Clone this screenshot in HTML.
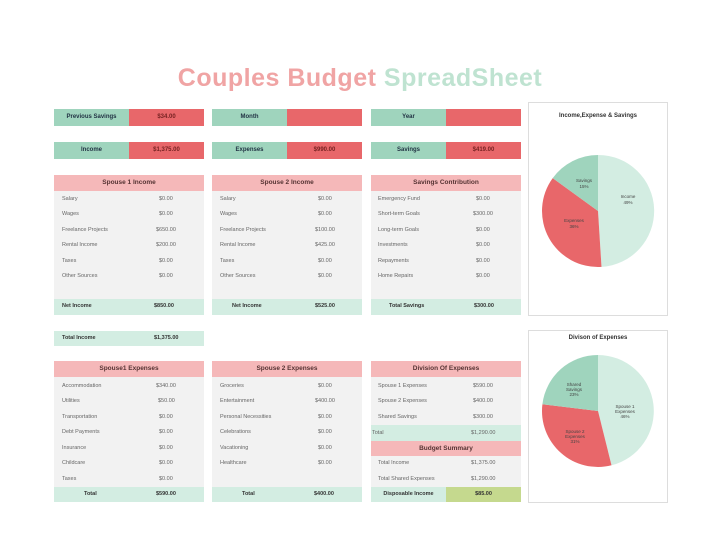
<!DOCTYPE html>
<html><head><style>
body{margin:0;width:720px;height:556px;background:#fff;position:relative;overflow:hidden;font-family:"Liberation Sans",sans-serif;color:#444}
div{position:absolute;box-sizing:border-box}
.g{background:#9fd4bd;font-weight:bold;font-size:6px;color:#234;text-align:center}
.r{background:#e8676a;font-weight:bold;font-size:6px;color:#722;text-align:center}
.h{background:#f5b8b9;font-weight:bold;font-size:6.5px;color:#533;text-align:center;line-height:16px}
.b{background:#f2f2f2}
.f{background:#d3ede2;font-weight:bold;font-size:5.5px;color:#333;line-height:15px}
.t{font-size:5.5px;color:#666;line-height:8px}
.card{border:1px solid #ddd;background:#fff}
</style></head><body>
<div style="left:0;top:64px;width:720px;text-align:center;font-size:25px;font-weight:bold;letter-spacing:0.5px"><span style="color:#f0a4a4">Couples Budget</span> <span style="color:#bfe3d1">SpreadSheet</span></div>

<!-- row 1 -->
<div class="g" style="left:54px;top:109px;width:75px;height:17px;line-height:17px">Previous Savings</div><div class="r" style="left:129px;top:109px;width:75px;height:17px;line-height:17px">$34.00</div>
<div class="g" style="left:212px;top:109px;width:75px;height:17px;line-height:17px">Month</div><div class="r" style="left:287px;top:109px;width:75px;height:17px"></div>
<div class="g" style="left:371px;top:109px;width:75px;height:17px;line-height:17px">Year</div><div class="r" style="left:446px;top:109px;width:75px;height:17px"></div>
<div class="g" style="left:54px;top:142px;width:75px;height:17px;line-height:17px">Income</div><div class="r" style="left:129px;top:142px;width:75px;height:17px;line-height:17px">$1,375.00</div>
<div class="g" style="left:212px;top:142px;width:75px;height:17px;line-height:17px">Expenses</div><div class="r" style="left:287px;top:142px;width:75px;height:17px;line-height:17px">$990.00</div>
<div class="g" style="left:371px;top:142px;width:75px;height:17px;line-height:17px">Savings</div><div class="r" style="left:446px;top:142px;width:75px;height:17px;line-height:17px">$419.00</div>

<!-- income tables -->
<div class="h" style="left:54px;top:175px;width:150px;height:16px">Spouse 1 Income</div>
<div class="b" style="left:54px;top:191px;width:150px;height:108px"></div>
<div class="f" style="left:54px;top:299px;width:150px;height:16px"><span style="position:absolute;left:8px">Net Income</span><span style="position:absolute;left:100px">$850.00</span></div>
<div class="h" style="left:212px;top:175px;width:150px;height:16px">Spouse 2 Income</div>
<div class="b" style="left:212px;top:191px;width:150px;height:108px"></div>
<div class="f" style="left:212px;top:299px;width:150px;height:16px"><span style="position:absolute;left:20px">Net Income</span><span style="position:absolute;left:103px">$525.00</span></div>
<div class="h" style="left:371px;top:175px;width:150px;height:16px">Savings Contribution</div>
<div class="b" style="left:371px;top:191px;width:150px;height:108px"></div>
<div class="f" style="left:371px;top:299px;width:150px;height:16px"><span style="position:absolute;left:18px">Total Savings</span><span style="position:absolute;left:103px">$300.00</span></div>

<div class="t" style="left:62px;top:195px">Salary</div><div class="t" style="left:159px;top:195px">$0.00</div>
<div class="t" style="left:62px;top:210px">Wages</div><div class="t" style="left:159px;top:210px">$0.00</div>
<div class="t" style="left:62px;top:226px">Freelance Projects</div><div class="t" style="left:156px;top:226px">$650.00</div>
<div class="t" style="left:62px;top:241px">Rental Income</div><div class="t" style="left:156px;top:241px">$200.00</div>
<div class="t" style="left:62px;top:257px">Taxes</div><div class="t" style="left:159px;top:257px">$0.00</div>
<div class="t" style="left:62px;top:272px">Other Sources</div><div class="t" style="left:159px;top:272px">$0.00</div>

<div class="t" style="left:220px;top:195px">Salary</div><div class="t" style="left:318px;top:195px">$0.00</div>
<div class="t" style="left:220px;top:210px">Wages</div><div class="t" style="left:318px;top:210px">$0.00</div>
<div class="t" style="left:220px;top:226px">Freelance Projects</div><div class="t" style="left:315px;top:226px">$100.00</div>
<div class="t" style="left:220px;top:241px">Rental Income</div><div class="t" style="left:315px;top:241px">$425.00</div>
<div class="t" style="left:220px;top:257px">Taxes</div><div class="t" style="left:318px;top:257px">$0.00</div>
<div class="t" style="left:220px;top:272px">Other Sources</div><div class="t" style="left:318px;top:272px">$0.00</div>

<div class="t" style="left:378px;top:195px">Emergency Fund</div><div class="t" style="left:476px;top:195px">$0.00</div>
<div class="t" style="left:378px;top:210px">Short-term Goals</div><div class="t" style="left:473px;top:210px">$300.00</div>
<div class="t" style="left:378px;top:226px">Long-term Goals</div><div class="t" style="left:476px;top:226px">$0.00</div>
<div class="t" style="left:378px;top:241px">Investments</div><div class="t" style="left:476px;top:241px">$0.00</div>
<div class="t" style="left:378px;top:257px">Repayments</div><div class="t" style="left:476px;top:257px">$0.00</div>
<div class="t" style="left:378px;top:272px">Home Repairs</div><div class="t" style="left:476px;top:272px">$0.00</div>

<!-- pie 1 -->
<div class="card" style="left:528px;top:102px;width:140px;height:214px"></div>
<div style="left:528px;top:113px;width:140px;text-align:center;font-size:6px;font-weight:bold;color:#333">Income,Expense &amp; Savings</div>
<svg style="position:absolute;left:0;top:0" width="720" height="556">
<path d="M598,211 L598,155 A56,56 0 0 1 601.5,266.9 Z" fill="#d3ede2"/>
<path d="M598,211 L601.5,266.9 A56,56 0 0 1 552.7,178.1 Z" fill="#e8676a"/>
<path d="M598,211 L552.7,178.1 A56,56 0 0 1 598,155 Z" fill="#9fd4bd"/>
<path d="M598,411 L598,355 A56,56 0 0 1 611.5,465.3 Z" fill="#d3ede2"/>
<path d="M598,411 L611.5,465.3 A56,56 0 0 1 542.4,404.2 Z" fill="#e8676a"/>
<path d="M598,411 L542.4,404.2 A56,56 0 0 1 598,355 Z" fill="#9fd4bd"/>
<g font-size="4.5" fill="#444" text-anchor="middle" font-family="Liberation Sans">
<text x="628" y="198">Income</text><text x="628" y="204">49%</text>
<text x="574" y="222">Expenses</text><text x="574" y="228">36%</text>
<text x="584" y="182">Savings</text><text x="584" y="188">15%</text>
<text x="625" y="408">Spouse 1</text><text x="625" y="413">Expenses</text><text x="625" y="418">46%</text>
<text x="575" y="433">Spouse 2</text><text x="575" y="438">Expenses</text><text x="575" y="443">31%</text>
<text x="574" y="386">Shared</text><text x="574" y="391">Savings</text><text x="574" y="396">23%</text>
</g></svg>

<!-- total income -->
<div class="f" style="left:54px;top:331px;width:150px;height:15px;line-height:15px"><span style="position:absolute;left:8px">Total Income</span><span style="position:absolute;left:100px">$1,375.00</span></div>

<!-- expenses -->
<div class="h" style="left:54px;top:361px;width:150px;height:16px">Spouse1 Expenses</div>
<div class="b" style="left:54px;top:377px;width:150px;height:110px"></div>
<div class="f" style="left:54px;top:487px;width:150px;height:15px"><span style="position:absolute;left:30px">Total</span><span style="position:absolute;left:102px">$590.00</span></div>
<div class="h" style="left:212px;top:361px;width:150px;height:16px">Spouse 2 Expenses</div>
<div class="b" style="left:212px;top:377px;width:150px;height:110px"></div>
<div class="f" style="left:212px;top:487px;width:150px;height:15px"><span style="position:absolute;left:30px">Total</span><span style="position:absolute;left:102px">$400.00</span></div>

<div class="t" style="left:62px;top:382px">Accommodation</div><div class="t" style="left:156px;top:382px">$340.00</div>
<div class="t" style="left:62px;top:397px">Utilities</div><div class="t" style="left:158px;top:397px">$50.00</div>
<div class="t" style="left:62px;top:413px">Transportation</div><div class="t" style="left:159px;top:413px">$0.00</div>
<div class="t" style="left:62px;top:428px">Debt Payments</div><div class="t" style="left:159px;top:428px">$0.00</div>
<div class="t" style="left:62px;top:444px">Insurance</div><div class="t" style="left:159px;top:444px">$0.00</div>
<div class="t" style="left:62px;top:459px">Childcare</div><div class="t" style="left:159px;top:459px">$0.00</div>
<div class="t" style="left:62px;top:475px">Taxes</div><div class="t" style="left:159px;top:475px">$0.00</div>

<div class="t" style="left:220px;top:382px">Groceries</div><div class="t" style="left:318px;top:382px">$0.00</div>
<div class="t" style="left:220px;top:397px">Entertainment</div><div class="t" style="left:315px;top:397px">$400.00</div>
<div class="t" style="left:220px;top:413px">Personal Necessities</div><div class="t" style="left:318px;top:413px">$0.00</div>
<div class="t" style="left:220px;top:428px">Celebrations</div><div class="t" style="left:318px;top:428px">$0.00</div>
<div class="t" style="left:220px;top:444px">Vacationing</div><div class="t" style="left:318px;top:444px">$0.00</div>
<div class="t" style="left:220px;top:459px">Healthcare</div><div class="t" style="left:318px;top:459px">$0.00</div>

<!-- division -->
<div class="h" style="left:371px;top:361px;width:150px;height:16px">Division Of Expenses</div>
<div class="b" style="left:371px;top:377px;width:150px;height:48px"></div>
<div class="t" style="left:378px;top:382px">Spouse 1 Expenses</div><div class="t" style="left:473px;top:382px">$590.00</div>
<div class="t" style="left:378px;top:397px">Spouse 2 Expenses</div><div class="t" style="left:473px;top:397px">$400.00</div>
<div class="t" style="left:378px;top:413px">Shared Savings</div><div class="t" style="left:473px;top:413px">$300.00</div>
<div style="left:371px;top:425px;width:150px;height:16px;background:#d3ede2"></div>
<div class="t" style="left:372px;top:429px">Total</div><div class="t" style="left:471px;top:429px">$1,290.00</div>
<div class="h" style="left:371px;top:441px;width:150px;height:15px;line-height:15px">Budget Summary</div>
<div class="b" style="left:371px;top:456px;width:150px;height:31px"></div>
<div class="t" style="left:378px;top:459px">Total Income</div><div class="t" style="left:471px;top:459px">$1,375.00</div>
<div class="t" style="left:378px;top:475px">Total Shared Expenses</div><div class="t" style="left:471px;top:475px">$1,290.00</div>
<div class="f" style="left:371px;top:487px;width:75px;height:15px;text-align:center">Disposable Income</div>
<div class="f" style="left:446px;top:487px;width:75px;height:15px;text-align:center;background:#c5d98e">$85.00</div>

<!-- pie 2 card -->
<div class="card" style="left:528px;top:330px;width:140px;height:173px;background:transparent"></div>
<div style="left:528px;top:335px;width:140px;text-align:center;font-size:6px;font-weight:bold;color:#333">Divison of Expenses</div>
</body></html>
